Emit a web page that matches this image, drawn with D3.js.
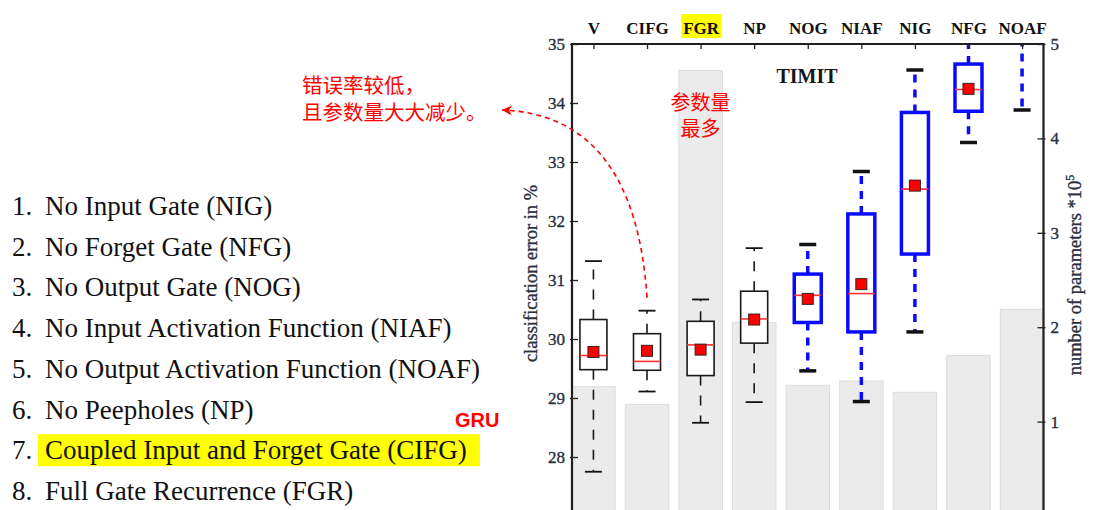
<!DOCTYPE html>
<html><head><meta charset="utf-8">
<script src="https://cdn.jsdelivr.net/npm/d3@7"></script>
<style>body{margin:0;background:#fff}svg{display:block}</style>
</head><body>
<svg id="c" width="1097" height="510"></svg>
<script>
// ---- data ----
const categories = ["V","CIFG","FGR","NP","NOG","NIAF","NIG","NFG","NOAF"];
const significant = [false,false,false,false,true,true,true,true,true];
const lowerWhisker = [27.75, 29.11, 28.58, 28.93, 29.46, 28.94, 30.12, 33.33, 33.88];
const q1          = [29.48, 29.47, 29.38, 29.93, 30.28, 30.12, 31.44, 33.86, 35.6];
const median      = [29.72, 29.62, 29.90, 30.34, 30.74, 30.77, 32.54, 34.23, 36.2];
const mean        = [29.78, 29.80, 29.82, 30.33, 30.68, 30.93, 32.60, 34.24, 36.3];
const q3          = [30.33, 30.09, 30.30, 30.81, 31.10, 32.12, 33.84, 34.66, 37.0];
const upperWhisker= [31.32, 30.48, 30.67, 31.54, 31.60, 32.84, 34.56, 35.3, 38.0];
const params      = [1.37, 1.18, 4.72, 2.05, 1.385, 1.43, 1.31, 1.70, 2.19];
const errorTicks = [28,29,30,31,32,33,34,35];
const paramTicks = [1,2,3,4,5];
const listItems = [
  "No Input Gate (NIG)",
  "No Forget Gate (NFG)",
  "No Output Gate (NOG)",
  "No Input Activation Function (NIAF)",
  "No Output Activation Function (NOAF)",
  "No Peepholes (NP)",
  "Coupled Input and Forget Gate (CIFG)",
  "Full Gate Recurrence (FGR)"
];
const highlightedItem = 6;

const svg = d3.select("#c");
const L = 572, R = 1043.5, T = 44, B = 516;
const serif = "'Liberation Serif','Times New Roman',serif";
const cjk = "'Noto Sans CJK SC','Noto Sans CJK JP',sans-serif";
const slate = "#283040";

const x = d3.scalePoint().domain(categories).range([L, R]).padding(0.4);
const yL = d3.scaleLinear().domain([27, 35]).range([B, T]);
const yR = d3.scaleLinear().domain([0, 5]).range([B, T]);

svg.append("defs").append("clipPath").attr("id","plot")
  .append("rect").attr("x",L).attr("y",T).attr("width",R-L).attr("height",B-T);
const marker = svg.select("defs").append("marker").attr("id","arr")
  .attr("viewBox","0 0 10 10").attr("refX",10).attr("refY",5)
  .attr("markerUnits","userSpaceOnUse").attr("markerWidth",18).attr("markerHeight",10)
  .attr("orient","auto");
marker.append("path").attr("d","M0,0 L10,5 L0,10 L3,5 Z").attr("fill","#ff0000");

const data = categories.map((c,i)=>({c, sig:significant[i], lo:lowerWhisker[i], q1:q1[i], med:median[i],
  mean:mean[i], q3:q3[i], hi:upperWhisker[i], p:params[i]}));

const plot = svg.append("g").attr("clip-path","url(#plot)");
// parameter bars
const bw = 43.5;
plot.selectAll("rect.bar").data(data).join("rect").attr("class","bar")
  .attr("x", d=>x(d.c)-bw/2).attr("width", bw)
  .attr("y", d=>yR(d.p)).attr("height", d=>yR(0)-yR(d.p))
  .attr("fill","#ebebeb").attr("stroke","#dcdcdc").attr("stroke-width",1);

// boxes
const boxW = 27, capW = 17;
const g = plot.selectAll("g.box").data(data).join("g").attr("class","box");
const col = d=>d.sig ? "#0a0aff" : "#1a1a1a";
const sw = d=>d.sig ? 3.5 : 1.6;
const dash = d=>d.sig ? "8,7" : "10,10";
g.append("line").attr("x1",d=>x(d.c)).attr("x2",d=>x(d.c))
  .attr("y1",d=>yL(d.q3)).attr("y2",d=>yL(d.hi))
  .attr("stroke",col).attr("stroke-width",sw).attr("stroke-dasharray",dash);
g.append("line").attr("x1",d=>x(d.c)).attr("x2",d=>x(d.c))
  .attr("y1",d=>yL(d.q1)).attr("y2",d=>yL(d.lo))
  .attr("stroke",col).attr("stroke-width",sw).attr("stroke-dasharray",dash);
g.append("line").attr("x1",d=>x(d.c)-capW/2).attr("x2",d=>x(d.c)+capW/2)
  .attr("y1",d=>yL(d.hi)).attr("y2",d=>yL(d.hi))
  .attr("stroke","#111").attr("stroke-width",d=>d.sig?3.5:1.8);
g.append("line").attr("x1",d=>x(d.c)-capW/2).attr("x2",d=>x(d.c)+capW/2)
  .attr("y1",d=>yL(d.lo)).attr("y2",d=>yL(d.lo))
  .attr("stroke","#111").attr("stroke-width",d=>d.sig?3.5:1.8);
g.append("rect").attr("x",d=>x(d.c)-boxW/2).attr("width",boxW)
  .attr("y",d=>yL(d.q3)).attr("height",d=>yL(d.q1)-yL(d.q3))
  .attr("fill","#fff").attr("stroke",col).attr("stroke-width",sw);
g.append("line").attr("x1",d=>x(d.c)-boxW/2).attr("x2",d=>x(d.c)+boxW/2)
  .attr("y1",d=>yL(d.med)).attr("y2",d=>yL(d.med))
  .attr("stroke","#ff3030").attr("stroke-width",1.6);
g.append("rect").attr("x",d=>x(d.c)-5.5).attr("y",d=>yL(d.mean)-5.5)
  .attr("width",11).attr("height",11)
  .attr("fill","#ff0000").attr("stroke","#3a2020").attr("stroke-width",1);

// axes
const numStyle = sel => sel.selectAll("text").attr("font-family",serif).attr("font-size",17)
  .attr("fill",slate).attr("stroke",slate).attr("stroke-width",0.35);
const axL = svg.append("g").attr("transform",`translate(${L},0)`)
  .call(d3.axisLeft(yL).tickValues(errorTicks).tickSize(-6).tickPadding(7).tickFormat(d3.format("d")));
axL.select(".domain").remove(); numStyle(axL);
axL.selectAll("line").attr("stroke","#222").attr("stroke-width",1.3).attr("x1",-2);
const axR = svg.append("g").attr("transform",`translate(${R},0)`)
  .call(d3.axisRight(yR).tickValues(paramTicks).tickSize(-6).tickPadding(7).tickFormat(d3.format("d")));
axR.select(".domain").remove(); numStyle(axR);
axR.selectAll("line").attr("stroke","#222").attr("stroke-width",1.3).attr("x1",2);
const axT = svg.append("g").attr("transform",`translate(0,${T})`)
  .call(d3.axisTop(x).tickSize(-5).tickPadding(10));
axT.select(".domain").remove();
axT.selectAll("line").attr("stroke","#222").attr("stroke-width",1.3);
axT.selectAll("text").attr("font-family",serif).attr("font-size",17).attr("font-weight","bold").attr("fill","#111");
// FGR highlight
axT.selectAll(".tick").filter(d=>d==="FGR").each(function(){
  const t = d3.select(this).select("text"); const bb = t.node().getBBox();
  d3.select(this).insert("rect","text").attr("x",bb.x-2).attr("y",-30).attr("width",bb.width+4).attr("height",24)
    .attr("fill","#ffff00");
});

// frame
svg.append("path").attr("d",`M${L},${B} V${T} H${R} V${B}`).attr("fill","none")
  .attr("stroke","#1e1e1e").attr("stroke-width",2.2);

// axis titles
svg.append("text").attr("transform",`translate(537,${(175+372)/2}) rotate(-90)`)
  .attr("text-anchor","middle").attr("font-family",serif).attr("font-size",18.5)
  .attr("fill",slate).attr("stroke",slate).attr("stroke-width",0.35).text("classification error in %");
const rt = svg.append("text").attr("transform",`translate(1081,${(168+382)/2}) rotate(-90)`)
  .attr("text-anchor","middle").attr("font-family",serif).attr("font-size",18.5)
  .attr("fill",slate).attr("stroke",slate).attr("stroke-width",0.35);
rt.append("tspan").text("number of parameters *10");
rt.append("tspan").attr("font-size",12).attr("dy",-7).text("5");

svg.append("text").attr("x",807).attr("y",83).attr("text-anchor","middle")
  .attr("font-family",serif).attr("font-size",20).attr("font-weight","bold").attr("fill","#151515").text("TIMIT");

// annotations
svg.append("text").attr("x",x("FGR")).attr("y",110).attr("text-anchor","middle")
  .attr("font-family",cjk).attr("font-size",20).attr("fill","#ff0000").text("参数量");
svg.append("text").attr("x",x("FGR")).attr("y",136).attr("text-anchor","middle")
  .attr("font-family",cjk).attr("font-size",20).attr("fill","#ff0000").text("最多");
svg.append("text").attr("x",302).attr("y",93)
  .attr("font-family",cjk).attr("font-size",20.5).attr("fill","#ff0000").text("错误率较低，");
svg.append("text").attr("x",302).attr("y",120)
  .attr("font-family",cjk).attr("font-size",20.5).attr("fill","#ff0000").text("且参数量大大减少。");
const cx = x("CIFG");
svg.append("path").attr("d",`M${cx},${yL(upperWhisker[1])-13} Q635,115 502,110`)
  .attr("fill","none").attr("stroke","#ff0000").attr("stroke-width",1.6)
  .attr("stroke-dasharray","5,4").attr("marker-end","url(#arr)");

// list
const lg = svg.append("g");
listItems.forEach((t,i)=>{
  const yb = 215 + i*40.7;
  if(i===highlightedItem){
    lg.append("rect").attr("x",38).attr("y",yb-25).attr("width",442).attr("height",32).attr("fill","#ffff00");
  }
  lg.append("text").attr("x",12).attr("y",yb).attr("font-family",serif).attr("font-size",27)
    .attr("fill","#111").text((i+1)+".");
  lg.append("text").attr("x",45).attr("y",yb).attr("font-family",serif).attr("font-size",27)
    .attr("fill","#111").text(t);
});
svg.append("text").attr("x",455).attr("y",427).attr("font-family","'Liberation Sans',Arial,sans-serif")
  .attr("font-size",20).attr("font-weight","bold").attr("fill","#ff0000").text("GRU");
</script>
</body></html>
